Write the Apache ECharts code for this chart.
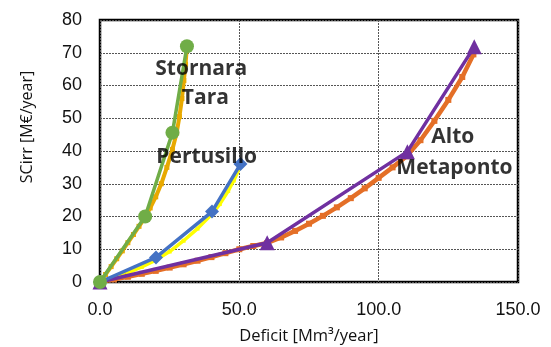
<!DOCTYPE html>
<html>
<head>
<meta charset="utf-8">
<script src="https://cdn.jsdelivr.net/npm/echarts@6/dist/echarts.min.js"></script>
<style>
html,body{margin:0;padding:0;background:#fff;}
#chart{width:551px;height:347px;}
</style>
</head>
<body>
<div id="chart"></div>
<script>
// Deficit [Mm3/year] vs SCirr [M€/year] curves per irrigation district
const xTicks = [0, 50, 100, 150];
const yTicks = [0, 10, 20, 30, 40, 50, 60, 70, 80];

// Stornara Tara
const stornaraMain = [[0, 0], [16.2, 20], [26, 45.6], [31.2, 72]];
const stornaraFine = [[0,0],[2,2.3],[4,4.7],[6,7.1],[8,9.5],[10,12],[12,14.5],[14,17],[16,19.5],[18,22.6],[20,26],[22,30],[24,35],[26,40.5],[27.5,45.5],[28.5,50.5],[29.4,56],[30.1,61.5],[30.7,66.5],[31.1,71]];

// Pertusillo
const pertusilloMain = [[0, 0], [20.1, 7.5], [40.2, 21.5], [50.4, 36]];
const pertusilloFine = [[0,0],[5,1.2],[10,2.8],[15,4.6],[20,6.7],[25,9.3],[30,12.6],[35,16.3],[40,20.6],[43,23.8],[46,27.8],[48,31],[50.2,35]];

// Alto Metaponto
const metapontoMain = [[0, 0], [60, 12], [110.3, 39.8], [134.3, 71.8]];
const metapontoFine = [[0,0],[5,0.8],[10,1.6],[15,2.5],[20,3.4],[25,4.4],[30,5.4],[35,6.5],[40,7.6],[45,8.8],[50,10],[55,11],[60,11.9],[65,13.6],[70,15.6],[75,17.8],[80,20.2],[85,22.8],[90,25.6],[95,28.6],[100,31.8],[105,35],[110,38.4],[115,43.3],[120,49.2],[125,55.6],[130,62.6],[134,69.5]];

// District name labels, placed in data coordinates
const labelNames = ['Stornara', 'Tara', 'Pertusillo', 'Alto', 'Metaponto'];
const labelPos = [[36.3, 65.0], [37.8, 56.2], [38.3, 38.2], [126.6, 44.3], [127.2, 34.8]];

const fineSeries = (data, color, width, msize) => ({
  type: 'line', data, symbol: 'rect', symbolSize: msize, showSymbol: true,
  lineStyle: { color, width }, itemStyle: { color }, z: 2, animation: false, silent: true
});
const mainSeries = (data, color, symbol, size) => ({
  type: 'line', data, symbol, symbolSize: size,
  lineStyle: { color, width: 3.5 }, itemStyle: { color }, z: 3, animation: false, silent: true
});

const chart = echarts.init(document.getElementById('chart'), null, { renderer: 'canvas' });
chart.setOption({
  backgroundColor: '#fff',
  animation: false,
  grid: {
    left: 100, right: 33, top: 20, bottom: 65, outerBoundsMode: 'none', containLabel: false,
    show: true, borderColor: '#000', borderWidth: 2.5, backgroundColor: 'transparent'
  },
  graphic: [{
    type: 'text', x: 27, y: 127, rotation: Math.PI / 2, silent: true,
    style: { text: 'SCirr [M€/year]', align: 'center', verticalAlign: 'middle', fontFamily: 'Open Sans', fontSize: 16, fill: '#111' }
  }],
  xAxis: {
    type: 'value', min: xTicks[0], max: xTicks[xTicks.length - 1], interval: 50,
    name: 'Deficit [Mm³/year]', nameLocation: 'middle', nameGap: 46,
    nameTextStyle: { fontFamily: 'Open Sans', fontSize: 16.5, color: '#111' },
    axisLine: { show: false }, axisTick: { show: false },
    axisLabel: { fontFamily: 'Liberation Sans', fontSize: 18, color: '#111', margin: 19, formatter: v => v.toFixed(1) },
    splitLine: { show: true, lineStyle: { color: '#555', type: [2, 1], width: 1 } }
  },
  yAxis: {
    type: 'value', min: yTicks[0], max: yTicks[yTicks.length - 1], interval: 10,
    axisLine: { show: false }, axisTick: { show: false },
    axisLabel: { fontFamily: 'Liberation Sans', fontSize: 18, color: '#111', margin: 18 },
    splitLine: { show: true, lineStyle: { color: '#555', type: [2, 1], width: 1 } }
  },
  series: [
    fineSeries(metapontoFine, '#E46F27', 4.5, 6),
    fineSeries(pertusilloFine, '#FFFF00', 3.5, 4),
    fineSeries(stornaraFine, '#E8A900', 4, 5),
    mainSeries(metapontoMain, '#7030A0', 'triangle', 15),
    mainSeries(pertusilloMain, '#4472C4', 'diamond', 14),
    mainSeries(stornaraMain, '#70AD47', 'circle', 14),
    {
      type: 'scatter', symbolSize: 0, z: 5, animation: false, silent: true,
      data: labelPos.map((p, i) => ({ value: p, name: labelNames[i] })),
      label: {
        show: true, position: 'inside', formatter: p => p.name,
        fontFamily: 'Open Sans', fontWeight: 'bold', fontSize: 21, color: '#000', textBorderWidth: 0
      }
    }
  ]
});
</script>
</body>
</html>
